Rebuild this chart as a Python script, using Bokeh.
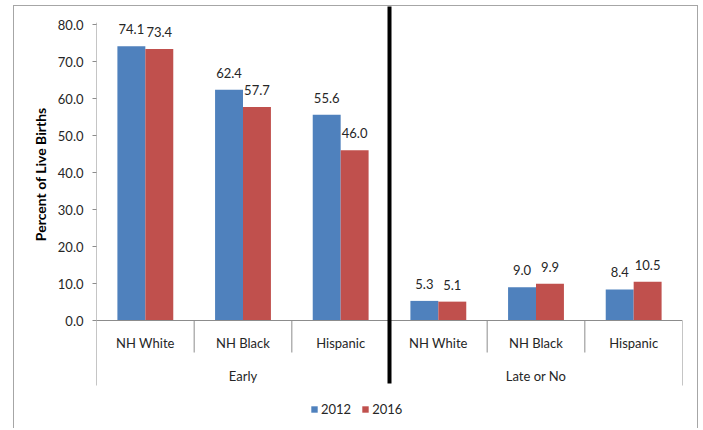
from bokeh.plotting import figure
from bokeh.models import ColumnDataSource, FactorRange, Range1d, FixedTicker, PrintfTickFormatter, Title
from bokeh.transform import dodge
from bokeh.core.properties import value
from bokeh.embed import file_html
from bokeh.resources import INLINE

# ---- data ----
groups = ["Early", "Late or No"]
races = ["NH White", "NH Black", "Hispanic"]
years = ["2012", "2016"]
v2012 = [74.1, 62.4, 55.6, 5.3, 9.0, 8.4]
v2016 = [73.4, 57.7, 46.0, 5.1, 9.9, 10.5]
y_ticks = [0, 10, 20, 30, 40, 50, 60, 70, 80]
y_title = "Percent of Live Births"

# ---- styles ----
FONT = "Lato"
TXT = "#262626"
AX = "#8c8c8c"
BORDER = "#a6a6a6"
BLUE = "#4F81BD"
RED = "#C0504D"
FS = "13px"

Y_TOP = 86.49
Y_BOT = -29.19

factors = [(g, r) for g in groups for r in races]

p = figure(width=700, height=428,
           x_range=FactorRange(*factors, factor_padding=0, subgroup_padding=0,
                               group_padding=0, range_padding=0),
           y_range=Range1d(Y_BOT, Y_TOP),
           x_axis_location=None,
           output_backend="svg", toolbar_location=None,
           min_border_left=96, min_border_right=18, min_border_top=0, min_border_bottom=0)
p.outline_line_color = None
p.grid.grid_line_color = None
p.background_fill_alpha = 0
p.border_fill_alpha = 0
g = f"linear-gradient({BORDER},{BORDER})"
p.styles = {
    "background-color": "white",
    "background-image": f"{g}, {g}, {g}",
    "background-size": "1px 100%, 685px 1px, 1px 100%",
    "background-position": "13px 5px, 13px 5px, 697px 5px",
    "background-repeat": "no-repeat",
}

ax = p.yaxis[0]
ax.ticker = FixedTicker(ticks=y_ticks)
ax.formatter = PrintfTickFormatter(format="%.1f")
ax.axis_line_color = None
ax.major_tick_line_color = AX
ax.major_tick_out = 4
ax.major_tick_in = 0
ax.minor_tick_line_color = None
ax.major_label_text_font = FONT
ax.major_label_text_font_size = FS
ax.major_label_text_color = TXT
ax.major_label_standoff = 9

src = ColumnDataSource(dict(
    x=factors, v2012=v2012, v2016=v2016,
    l2012=[f"{v:.1f}" for v in v2012],
    l2016=[f"{v:.1f}" for v in v2016],
    race=[f[1] for f in factors],
))

off = 0.143
bw = 0.286
p.vbar(x=dodge("x", -off, range=p.x_range), top="v2012", width=bw, source=src,
       fill_color=BLUE, line_color=None, legend_label=years[0])
p.vbar(x=dodge("x", off, range=p.x_range), top="v2016", width=bw, source=src,
       fill_color=RED, line_color=None, legend_label=years[1])

lbl_kw = dict(text_align="center", text_baseline="middle", y_offset=-17,
              text_font=value(FONT), text_font_size=FS, text_color=TXT)
p.text(x=dodge("x", -off, range=p.x_range), y="v2012", text="l2012", source=src, **lbl_kw)
p.text(x=dodge("x", off, range=p.x_range), y="v2016", text="l2016", source=src, **lbl_kw)

# axis lines and category separators
left_edge = (groups[0], races[0], -0.5)
right_edge = (groups[-1], races[-1], 0.5)
mid_edge = (groups[0], races[-1], 0.5)
p.segment(x0=[left_edge], x1=[right_edge], y0=[0], y1=[0], line_color=AX, line_width=1)
p.segment(x0=[left_edge], x1=[left_edge], y0=[y_ticks[-1] + 0.5], y1=[-17.57], line_color=AX, line_width=1)
p.segment(x0=[right_edge], x1=[right_edge], y0=[0], y1=[-17.57], line_color=AX, line_width=1)
short_x = [(g_, r, 0.5) for g_ in groups for r in races[:-1]]
p.segment(x0=short_x, x1=short_x, y0=0, y1=-8.65, line_color=AX, line_width=1)

# category and group labels
p.text(x="x", y=0, text="race", source=src, text_align="center", text_baseline="middle",
       y_offset=22, text_font=value(FONT), text_font_size=FS, text_color=TXT)
p.text(x=groups, y=[0, 0], text=groups, text_align="center", text_baseline="middle",
       y_offset=55, text_font=value(FONT), text_font_size=FS, text_color=TXT)

# divider
p.segment(x0=[mid_edge], x1=[mid_edge], y0=[-17.03], y1=[84.86], line_color="black", line_width=4)

# y title
p.add_layout(Title(text=y_title, align="right", offset=107, vertical_align="middle",
                   text_font=FONT, text_font_style="bold", text_font_size="14px",
                   text_color="black"), "left")

lg = p.legend[0]
lg.orientation = "horizontal"
lg.location = (214, 11)
lg.background_fill_alpha = 0
lg.border_line_color = None
lg.glyph_width = 8
lg.glyph_height = 8
lg.label_text_font = FONT
lg.label_text_font_size = FS
lg.label_text_color = TXT
lg.label_height = 14
lg.padding = 2
lg.spacing = 10
lg.label_standoff = 3
lg.margin = 0

open("out.html", "w").write(file_html(p, INLINE))
